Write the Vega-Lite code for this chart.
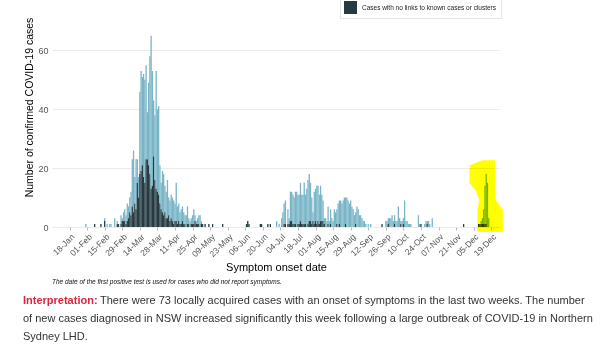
{
  "$schema": "https://vega.github.io/schema/vega-lite/v6.json",
  "width": 448,
  "height": 206,
  "autosize": {"type": "none"},
  "padding": {"left": 52, "top": 21, "right": 107, "bottom": 132},
  "background": "white",
  "config": {"view": {"stroke": null}, "font": "Liberation Sans", "axis": {"labelOverlap": false}},
  "layer": [
    {
      "data": {"values": [
        {"d":"2020-01-31","l":1},{"d":"2020-02-07","n":1},{"d":"2020-02-12","n":1},{"d":"2020-02-15","l":1,"n":2},
        {"d":"2020-02-17","l":1},{"d":"2020-02-19","l":1},{"d":"2020-02-20","l":1},{"d":"2020-02-23","l":3},
        {"d":"2020-02-25","l":1,"n":1},{"d":"2020-02-26","n":1},{"d":"2020-02-28","l":3,"n":1},{"d":"2020-02-29","l":1,"n":2},
        {"d":"2020-03-01","l":3,"n":2},{"d":"2020-03-02","l":4,"n":2},{"d":"2020-03-03","l":3,"n":1},{"d":"2020-03-04","l":6,"n":2},
        {"d":"2020-03-05","l":4,"n":3},{"d":"2020-03-06","l":5,"n":5},{"d":"2020-03-07","l":8,"n":4},{"d":"2020-03-08","l":16,"n":7},
        {"d":"2020-03-09","l":21,"n":5},{"d":"2020-03-10","l":9,"n":8},{"d":"2020-03-11","l":17,"n":6},{"d":"2020-03-12","l":8,"n":15},
        {"d":"2020-03-13","l":7,"n":10},{"d":"2020-03-14","l":28,"n":18},{"d":"2020-03-15","l":34,"n":19},{"d":"2020-03-16","l":30,"n":21},
        {"d":"2020-03-17","l":35,"n":17},{"d":"2020-03-18","l":35,"n":15},{"d":"2020-03-19","l":32,"n":23},{"d":"2020-03-20","l":16,"n":23},
        {"d":"2020-03-21","l":28,"n":21},{"d":"2020-03-22","l":40,"n":18},{"d":"2020-03-23","l":52,"n":13},{"d":"2020-03-24","l":39,"n":14},
        {"d":"2020-03-25","l":19,"n":24},{"d":"2020-03-26","l":22,"n":16},{"d":"2020-03-27","l":40,"n":13},{"d":"2020-03-28","l":28,"n":12},
        {"d":"2020-03-29","l":30,"n":11},{"d":"2020-03-30","l":13,"n":8},{"d":"2020-03-31","l":9,"n":6},{"d":"2020-04-01","l":14,"n":5},
        {"d":"2020-04-02","l":14,"n":4},{"d":"2020-04-03","l":9,"n":5},{"d":"2020-04-04","l":9,"n":3},{"d":"2020-04-05","l":13,"n":3},
        {"d":"2020-04-06","l":6,"n":4},{"d":"2020-04-07","l":7,"n":2},{"d":"2020-04-08","l":8,"n":3},{"d":"2020-04-09","l":8,"n":2},
        {"d":"2020-04-10","l":8,"n":1},{"d":"2020-04-11","l":6,"n":2},{"d":"2020-04-12","l":13,"n":2},{"d":"2020-04-13","l":6,"n":1},
        {"d":"2020-04-14","l":6,"n":2},{"d":"2020-04-15","l":4,"n":1},{"d":"2020-04-16","l":5,"n":1},{"d":"2020-04-17","l":5,"n":2},
        {"d":"2020-04-18","l":4,"n":1},{"d":"2020-04-19","l":3,"n":1},{"d":"2020-04-20","l":4},{"d":"2020-04-21","l":6,"n":1},
        {"d":"2020-04-22","l":2,"n":1},{"d":"2020-04-23","l":2},{"d":"2020-04-24","l":2,"n":1},{"d":"2020-04-25","l":3,"n":1},
        {"d":"2020-04-26","l":5,"n":1},{"d":"2020-04-27","l":2,"n":2},{"d":"2020-04-28","l":1,"n":1},{"d":"2020-04-29","l":2,"n":1},
        {"d":"2020-04-30","l":3,"n":1},{"d":"2020-05-01","l":4},{"d":"2020-05-02","l":1,"n":1},{"d":"2020-05-03","n":1},
        {"d":"2020-05-05","n":1},{"d":"2020-05-08","n":1},{"d":"2020-05-11","n":1},{"d":"2020-05-19","n":1},
        {"d":"2020-06-07","n":1},{"d":"2020-06-08","n":2},{"d":"2020-06-09","n":1},{"d":"2020-06-18","n":1},
        {"d":"2020-06-19","n":1},{"d":"2020-06-24","n":1},{"d":"2020-06-26","n":1},{"d":"2020-07-01","l":2},
        {"d":"2020-07-03","l":1},{"d":"2020-07-05","l":3},{"d":"2020-07-06","l":5},{"d":"2020-07-07","l":7,"n":1},
        {"d":"2020-07-08","l":8,"n":1},{"d":"2020-07-10","l":5,"n":1},{"d":"2020-07-11","l":2,"n":1},{"d":"2020-07-12","l":10,"n":2},
        {"d":"2020-07-13","l":10,"n":2},{"d":"2020-07-14","l":10,"n":1},{"d":"2020-07-15","l":9,"n":1},{"d":"2020-07-16","l":11,"n":1},
        {"d":"2020-07-17","l":12},{"d":"2020-07-18","l":10,"n":1},{"d":"2020-07-19","l":10,"n":1},{"d":"2020-07-20","l":13,"n":2},
        {"d":"2020-07-21","l":10,"n":1},{"d":"2020-07-22","l":10,"n":1},{"d":"2020-07-23","l":14,"n":1},{"d":"2020-07-24","l":10,"n":1},
        {"d":"2020-07-25","l":13},{"d":"2020-07-26","l":15,"n":1},{"d":"2020-07-27","l":16,"n":2},{"d":"2020-07-28","l":13,"n":2},
        {"d":"2020-07-29","l":9,"n":1},{"d":"2020-07-30","l":3,"n":2},{"d":"2020-07-31","l":11,"n":1},{"d":"2020-08-01","l":11,"n":2},
        {"d":"2020-08-02","l":13,"n":1},{"d":"2020-08-03","l":12,"n":2},{"d":"2020-08-04","l":10,"n":1},{"d":"2020-08-05","l":12,"n":2},
        {"d":"2020-08-06","l":9,"n":2},{"d":"2020-08-07","l":7,"n":2},{"d":"2020-08-08","l":2,"n":1},{"d":"2020-08-09","l":3},
        {"d":"2020-08-10","l":2},{"d":"2020-08-11","l":6,"n":1},{"d":"2020-08-12","l":2},{"d":"2020-08-13","l":5,"n":1},
        {"d":"2020-08-14","l":3},{"d":"2020-08-15","l":2},{"d":"2020-08-16","l":6},{"d":"2020-08-17","l":5},
        {"d":"2020-08-18","l":5,"n":1},{"d":"2020-08-19","l":8},{"d":"2020-08-20","l":8,"n":1},{"d":"2020-08-21","l":9},
        {"d":"2020-08-22","l":8},{"d":"2020-08-23","l":9},{"d":"2020-08-24","l":10},{"d":"2020-08-25","l":9,"n":1},
        {"d":"2020-08-26","l":10},{"d":"2020-08-27","l":9},{"d":"2020-08-28","l":8},{"d":"2020-08-29","l":9},
        {"d":"2020-08-30","l":7},{"d":"2020-08-31","l":6},{"d":"2020-09-01","l":4},{"d":"2020-09-02","l":4,"n":1},
        {"d":"2020-09-03","l":7},{"d":"2020-09-04","l":6},{"d":"2020-09-05","l":4},{"d":"2020-09-06","l":4},
        {"d":"2020-09-07","l":3},{"d":"2020-09-08","l":2},{"d":"2020-09-09","l":2},{"d":"2020-09-10","l":1},
        {"d":"2020-09-12","l":1},{"d":"2020-09-14","l":1},{"d":"2020-09-23","n":1},{"d":"2020-09-26","l":2},
        {"d":"2020-09-27","l":2},{"d":"2020-09-28","l":2,"n":1},{"d":"2020-09-29","l":3},{"d":"2020-09-30","l":3},
        {"d":"2020-10-01","l":4},{"d":"2020-10-02","l":2},{"d":"2020-10-03","l":3,"n":1},{"d":"2020-10-04","l":2},
        {"d":"2020-10-05","l":2},{"d":"2020-10-06","l":7},{"d":"2020-10-07","l":3},{"d":"2020-10-08","l":1,"n":1},
        {"d":"2020-10-09","l":2},{"d":"2020-10-10","l":2,"n":1},{"d":"2020-10-11","l":9},{"d":"2020-10-12","l":2},
        {"d":"2020-10-13","l":2},{"d":"2020-10-14","l":1},{"d":"2020-10-15","l":1},{"d":"2020-10-16","l":1},
        {"d":"2020-10-22","l":4},{"d":"2020-10-23","l":1},{"d":"2020-10-24","n":1},{"d":"2020-10-27","l":1},
        {"d":"2020-10-28","l":2},{"d":"2020-10-29","l":1,"n":1},{"d":"2020-10-30","l":2},{"d":"2020-10-31","l":1},
        {"d":"2020-11-02","l":3},{"d":"2020-11-27","n":1},{"d":"2020-12-09","n":1},{"d":"2020-12-10","n":1},
        {"d":"2020-12-11","l":1,"n":1},{"d":"2020-12-12","l":2,"n":1},{"d":"2020-12-13","l":5,"n":1},{"d":"2020-12-14","l":13,"n":1},
        {"d":"2020-12-15","l":17,"n":1},{"d":"2020-12-16","l":15},{"d":"2020-12-17","l":3}
      ]},
      "transform": [
        {"fold": ["l", "n"], "as": ["type", "cases"]},
        {"filter": "datum.cases > 0"}
      ],
      "mark": {"type": "bar", "width": 1.3},
      "encoding": {
        "x": {
          "field": "d", "type": "temporal",
          "scale": {"type": "utc", "domain": [{"year": 2020, "month": 1, "date": 8, "utc": true}, {"year": 2020, "month": 12, "date": 22, "utc": true}]},
          "axis": {
            "values": [
              {"year":2020,"month":1,"date":18,"utc":true},{"year":2020,"month":2,"date":1,"utc":true},
              {"year":2020,"month":2,"date":15,"utc":true},{"year":2020,"month":2,"date":29,"utc":true},
              {"year":2020,"month":3,"date":14,"utc":true},{"year":2020,"month":3,"date":28,"utc":true},
              {"year":2020,"month":4,"date":11,"utc":true},{"year":2020,"month":4,"date":25,"utc":true},
              {"year":2020,"month":5,"date":9,"utc":true},{"year":2020,"month":5,"date":23,"utc":true},
              {"year":2020,"month":6,"date":6,"utc":true},{"year":2020,"month":6,"date":20,"utc":true},
              {"year":2020,"month":7,"date":4,"utc":true},{"year":2020,"month":7,"date":18,"utc":true},
              {"year":2020,"month":8,"date":1,"utc":true},{"year":2020,"month":8,"date":15,"utc":true},
              {"year":2020,"month":8,"date":29,"utc":true},{"year":2020,"month":9,"date":12,"utc":true},
              {"year":2020,"month":9,"date":26,"utc":true},{"year":2020,"month":10,"date":10,"utc":true},
              {"year":2020,"month":10,"date":24,"utc":true},{"year":2020,"month":11,"date":7,"utc":true},
              {"year":2020,"month":11,"date":21,"utc":true},{"year":2020,"month":12,"date":5,"utc":true},
              {"year":2020,"month":12,"date":19,"utc":true}
            ],
            "tickCount": 40,
            "labelExpr": "utcFormat(datum.value, '%d-%b')",
            "labelAngle": -45, "labelAlign": "right", "labelBaseline": "top",
            "labelFontSize": 8.5, "labelColor": "#555555", "labelPadding": 2,
            "labelOverlap": false, "labelFlush": false, "labelBound": false,
            "domain": false, "grid": false, "ticks": true, "tickSize": 3, "tickColor": "#bbbbbb",
            "title": "Symptom onset date", "titleFontSize": 11, "titleFontWeight": "normal",
            "titleColor": "#000000", "titleY": 40, "titleBaseline": "middle"
          }
        },
        "y": {
          "field": "cases", "type": "quantitative", "stack": "zero",
          "scale": {"domain": [0, 70]},
          "axis": {
            "values": [0, 20, 40, 60], "grid": true, "gridColor": "#ebebeb",
            "domain": false, "ticks": false, "labelFontSize": 9, "labelColor": "#555555", "labelPadding": 4,
            "title": "Number of confirmed COVID-19 cases", "titleFontSize": 10.5, "titleFontWeight": "normal",
            "titleColor": "#000000", "titleX": -23, "titleY": 86, "titleAlign": "center", "titleBaseline": "middle"
          }
        },
        "color": {
          "field": "type", "type": "nominal",
          "scale": {"domain": ["l", "n"], "range": ["#79b5c7", "#263a42"]},
          "legend": {
            "values": ["n"], "orient": "none", "legendX": 288, "legendY": -24, "title": null,
            "labelExpr": "'Cases with no links to known cases or clusters'",
            "symbolType": "square", "symbolSize": 169, "symbolStrokeWidth": 0, "symbolOpacity": 1,
            "labelFontSize": 6.5, "labelColor": "#222222", "labelOffset": 5, "labelLimit": 300,
            "strokeColor": "#e3e3e3", "fillColor": "white", "padding": 4
          }
        },
        "order": {"field": "type", "sort": "descending"}
      }
    },
    {
      "data": {"values": [
        {"c": 22.7, "a": "2020-12-12T00:00:00Z", "b": "2020-12-22T00:00:00Z"},
        {"c": 21, "a": "2020-12-02T00:00:00Z", "b": "2020-12-22T00:00:00Z"},
        {"c": 15, "a": "2020-12-01T12:00:00Z", "b": "2020-12-22T00:00:00Z"},
        {"c": 12.5, "a": "2020-12-06T12:00:00Z", "b": "2020-12-22T00:00:00Z"},
        {"c": 9.2, "a": "2020-12-09T12:00:00Z", "b": "2020-12-22T18:00:00Z"},
        {"c": 7.5, "a": "2020-12-08T18:00:00Z", "b": "2020-12-25T06:00:00Z"},
        {"c": 5.8, "a": "2020-12-08T00:00:00Z", "b": "2020-12-28T06:00:00Z"},
        {"c": -1.7, "a": "2020-12-08T00:00:00Z", "b": "2020-12-28T06:00:00Z"}
      ]},
      "mark": {"type": "area", "orient": "horizontal", "color": "#ffff00", "blend": "multiply", "opacity": 1},
      "encoding": {
        "y": {"field": "c", "type": "quantitative"},
        "x": {"field": "a", "type": "temporal"},
        "x2": {"field": "b"}
      }
    },
    {
      "data": {"values": [{"t": "The date of the first positive test is used for cases who did not report symptoms."}]},
      "mark": {"type": "text", "align": "left", "baseline": "middle", "fontSize": 6.5, "fontStyle": "italic", "color": "#111111"},
      "encoding": {"text": {"field": "t"}, "x": {"value": 0}, "y": {"value": 261}}
    },
    {
      "data": {"values": [{"t": "Interpretation:"}]},
      "mark": {"type": "text", "align": "left", "baseline": "middle", "fontSize": 11, "fontWeight": "bold", "color": "#d7263d"},
      "encoding": {"text": {"field": "t"}, "x": {"value": -29}, "y": {"value": 280}}
    },
    {
      "data": {"values": [{"t": "There were 73 locally acquired cases with an onset of symptoms in the last two weeks. The number"}]},
      "mark": {"type": "text", "align": "left", "baseline": "middle", "fontSize": 11, "color": "#333333"},
      "encoding": {"text": {"field": "t"}, "x": {"value": 48}, "y": {"value": 280}}
    },
    {
      "data": {"values": [{"t": "of new cases diagnosed in NSW increased significantly this week following a large outbreak of COVID-19 in Northern"}]},
      "mark": {"type": "text", "align": "left", "baseline": "middle", "fontSize": 11, "color": "#333333"},
      "encoding": {"text": {"field": "t"}, "x": {"value": -29}, "y": {"value": 298}}
    },
    {
      "data": {"values": [{"t": "Sydney LHD."}]},
      "mark": {"type": "text", "align": "left", "baseline": "middle", "fontSize": 11, "color": "#333333"},
      "encoding": {"text": {"field": "t"}, "x": {"value": -29}, "y": {"value": 316}}
    }
  ]
}
